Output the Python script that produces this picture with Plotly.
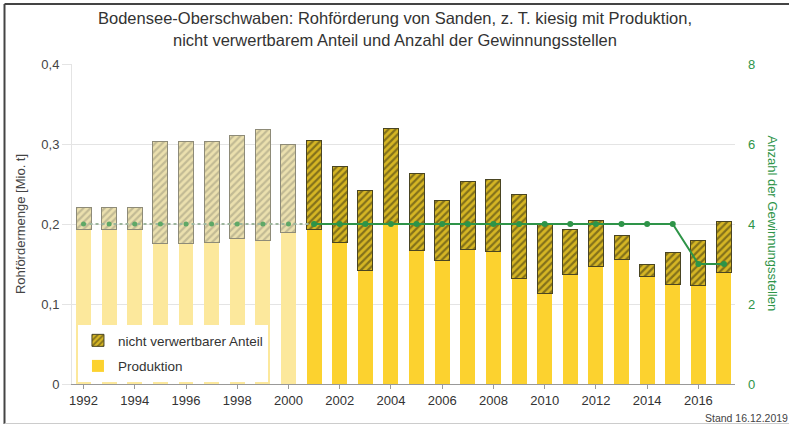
import plotly.graph_objects as go

years = list(range(1992, 2018))
produktion = [0.193, 0.193, 0.193, 0.176, 0.176, 0.177, 0.182, 0.179, 0.189,
              0.193, 0.177, 0.142, 0.200, 0.167, 0.154, 0.168, 0.166, 0.132,
              0.113, 0.137, 0.147, 0.156, 0.134, 0.124, 0.123, 0.140]
nicht_verwertbar = [0.028, 0.028, 0.028, 0.127, 0.127, 0.126, 0.129, 0.139, 0.111,
                    0.112, 0.095, 0.100, 0.119, 0.096, 0.076, 0.085, 0.090, 0.105,
                    0.086, 0.056, 0.057, 0.030, 0.016, 0.040, 0.057, 0.063]
anzahl = [4, 4, 4, 4, 4, 4, 4, 4, 4,
          4, 4, 4, 4, 4, 4, 4, 4, 4,
          4, 4, 4, 4, 4, 4, 3, 3]
n_old = 9  # 1992-2000 shown faded

y_tickvals = [0, 0.1, 0.2, 0.3, 0.4]
y_ticktext = ["0", "0,1", "0,2", "0,3", "0,4"]
y2_tickvals = [0, 2, 4, 6, 8]
x_tickvals = list(range(1992, 2017, 2))
title_lines = ["Bodensee-Oberschwaben: Rohförderung von Sanden, z. T. kiesig mit Produktion,",
               "nicht verwertbarem Anteil und Anzahl der Gewinnungsstellen"]

GREEN = "#2E9448"
W = 0.585

fig = go.Figure()

fig.add_trace(go.Bar(x=years[:n_old], y=produktion[:n_old], width=W,
                     marker=dict(color="#FCE89C", line=dict(width=0)),
                     showlegend=False, hoverinfo="skip"))
fig.add_trace(go.Bar(x=years[n_old:], y=produktion[n_old:], width=W, name="Produktion",
                     legendgroup="b", legendrank=2,
                     marker=dict(color="#FCD22F", line=dict(width=0))))
fig.add_trace(go.Bar(x=years[:n_old], y=nicht_verwertbar[:n_old], width=W,
                     marker=dict(color="#E6DAA6", line=dict(color="#8E8B78", width=1),
                                 pattern=dict(shape="/", fgcolor="#9A957A", bgcolor="#EBE0AE",
                                              size=5, solidity=0.45)),
                     showlegend=False, hoverinfo="skip"))
fig.add_trace(go.Bar(x=years[n_old:], y=nicht_verwertbar[n_old:], width=W,
                     name="nicht verwertbarer Anteil", legendgroup="a", legendrank=1,
                     marker=dict(color="#D2B020", line=dict(color="#4A4522", width=1),
                                 pattern=dict(shape="/", fgcolor="#2F2B12", bgcolor="#D6B624",
                                              size=5, solidity=0.45))))

fig.add_trace(go.Scatter(x=years[:n_old + 1], y=anzahl[:n_old + 1], yaxis="y2", mode="lines+markers",
                         line=dict(color="#9DB59D", width=2, dash="dot"),
                         marker=dict(color="#5FA866", size=5),
                         showlegend=False, hoverinfo="skip"))
fig.add_trace(go.Scatter(x=years[n_old:], y=anzahl[n_old:], yaxis="y2", mode="lines+markers",
                         line=dict(color=GREEN, width=2),
                         marker=dict(color=GREEN, size=6),
                         showlegend=False))

fig.update_layout(
    width=789, height=426,
    margin=dict(l=72, r=54, t=64, b=42),
    barmode="stack",
    plot_bgcolor="white", paper_bgcolor="white",
    font=dict(family="Liberation Sans, Arial, sans-serif", size=13, color="#444"),
    xaxis=dict(range=[1991.55, 2017.43], tickvals=x_tickvals, ticks="outside",
               ticklen=4, tickcolor="#999", showgrid=False, showline=True,
               linecolor="#999", linewidth=1, zeroline=False,
               tickfont=dict(size=13, color="#333")),
    yaxis=dict(range=[0, 0.4], tickvals=y_tickvals, ticktext=y_ticktext,
               showgrid=True, gridcolor="#E4E4E4", gridwidth=1,
               ticks="outside", ticklen=9, tickcolor="#E4E4E4",
               showline=True, linecolor="#E4E4E4", zeroline=False,
               tickfont=dict(size=13, color="#444"),
               title=dict(text="Rohfördermenge [Mio. t]", font=dict(size=13, color="#444"), standoff=12)),
    yaxis2=dict(range=[0, 8], tickvals=y2_tickvals, overlaying="y", side="right",
                showgrid=False, zeroline=False, showline=False,
                ticklabelstandoff=12,
                tickfont=dict(size=13, color=GREEN)),
    legend=dict(x=0.009, y=0.006, xanchor="left", yanchor="bottom",
                bgcolor="white", font=dict(size=13.5, color="#333"),
                traceorder="grouped", tracegroupgap=5, itemwidth=30),
    showlegend=True,
    annotations=[
        dict(text=title_lines[0], xref="paper", yref="paper", x=0.4875, y=1.14375,
             xanchor="center", yanchor="middle", showarrow=False,
             font=dict(size=16.5, color="#333")),
        dict(text=title_lines[1], xref="paper", yref="paper", x=0.4875, y=1.075,
             xanchor="center", yanchor="middle", showarrow=False,
             font=dict(size=16.5, color="#333")),
        dict(text="Anzahl der Gewinnungsstellen", textangle=90, xref="paper", yref="paper",
             x=1.058, y=0.5, xanchor="center", yanchor="middle", showarrow=False,
             font=dict(size=13, color=GREEN)),
        dict(text="Stand 16.12.2019", xref="paper", yref="paper", x=0.9517, y=-0.106,
             xanchor="left", yanchor="middle", showarrow=False,
             font=dict(size=10.5, color="#444")),
    ],
    shapes=[
        dict(type="line", xref="paper", yref="paper", x0=-0.1018, x1=-0.1018, y0=-0.125, y1=1.1875,
             line=dict(color="#444", width=2)),
        dict(type="line", xref="paper", yref="paper", x0=-0.1018, x1=1.1, y0=1.1875, y1=1.1875,
             line=dict(color="#444", width=2)),
        dict(type="line", xref="paper", yref="paper", x0=-0.1018, x1=1.1, y0=-0.1234, y1=-0.1234,
             line=dict(color="#CCC", width=1)),
    ],
)

fig.write_html("out.html", config={"displayModeBar": False},
               post_script="document.body.style.margin='0';document.body.style.overflow='hidden';")
